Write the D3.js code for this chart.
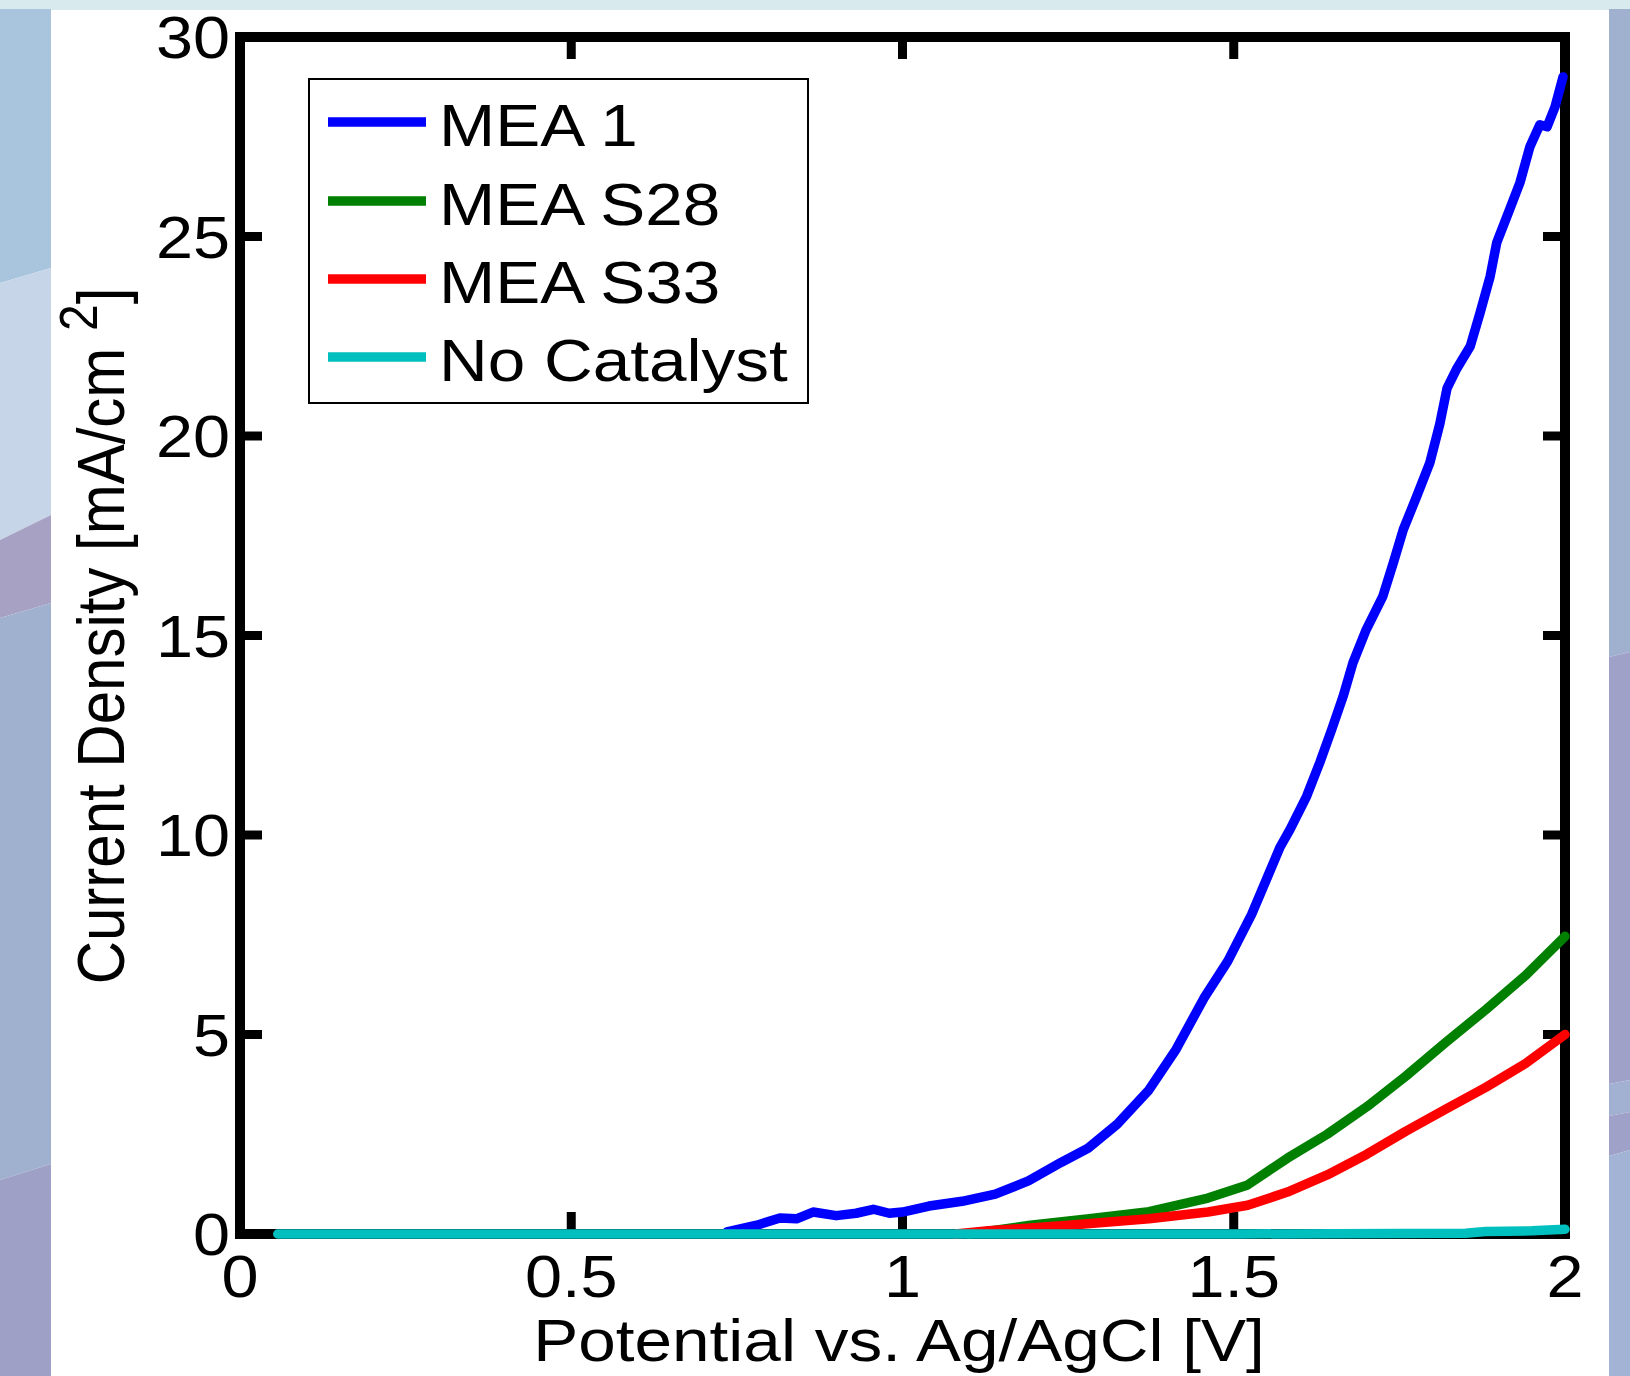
<!DOCTYPE html>
<html>
<head>
<meta charset="utf-8">
<script src="https://cdn.jsdelivr.net/npm/d3@7"></script>
<style>
  html, body { margin: 0; padding: 0; background: #fff; }
  svg { display: block; }
  text { font-family: "Liberation Sans", Arial, Helvetica, sans-serif; fill: #000; }
</style>
</head>
<body>
<svg id="chart" width="1630" height="1376"></svg>
<script>
// values: [potential V, current density mA/cm2]
const mea1 = [
  [0.735, 0.05], [0.78, 0.22], [0.815, 0.4], [0.84, 0.38], [0.865, 0.55], [0.9, 0.46],
  [0.93, 0.52], [0.956, 0.62], [0.98, 0.52], [1.0, 0.55], [1.04, 0.7], [1.09, 0.82],
  [1.14, 1.0], [1.19, 1.33], [1.24, 1.8], [1.28, 2.15], [1.324, 2.75], [1.372, 3.61],
  [1.413, 4.63], [1.455, 5.91], [1.491, 6.84], [1.527, 8.01], [1.57, 9.7], [1.585, 10.14],
  [1.61, 10.97], [1.63, 11.82], [1.648, 12.65], [1.665, 13.47], [1.68, 14.32], [1.70, 15.15],
  [1.725, 15.98], [1.741, 16.83], [1.756, 17.66], [1.776, 18.48], [1.796, 19.33], [1.811, 20.3],
  [1.822, 21.2], [1.837, 21.7], [1.857, 22.25], [1.872, 23.1], [1.887, 24.0], [1.897, 24.85],
  [1.917, 25.7], [1.932, 26.35], [1.947, 27.25], [1.962, 27.8], [1.973, 27.75], [1.985, 28.25],
  [1.997, 29.0]
];
const meaS28 = [
  [1.10, 0.0], [1.193, 0.22], [1.282, 0.38], [1.372, 0.56], [1.461, 0.9], [1.521, 1.23],
  [1.581, 1.9], [1.641, 2.5], [1.701, 3.19], [1.76, 3.96], [1.82, 4.8], [1.881, 5.63],
  [1.941, 6.49], [2.0, 7.46]
];
const meaS33 = [
  [1.08, 0.0], [1.13, 0.08], [1.251, 0.22], [1.372, 0.38], [1.461, 0.55], [1.521, 0.72],
  [1.581, 1.05], [1.641, 1.48], [1.701, 2.0], [1.76, 2.58], [1.82, 3.13], [1.881, 3.68],
  [1.941, 4.28], [2.0, 5.0]
];
const noCatalyst = [
  [0.057, 0.0], [0.5, 0.0], [1.0, 0.0], [1.5, 0.0], [1.85, 0.02], [1.88, 0.06], [1.95, 0.08], [2.0, 0.12]
];

const seriesNames = ["MEA 1", "MEA S28", "MEA S33", "No Catalyst"];
const seriesColors = ["#0000ff", "#008000", "#ff0000", "#00bfbf"];
const seriesData = [mea1, meaS28, meaS33, noCatalyst];

const xTicks = [0, 0.5, 1, 1.5, 2];
const xTickLabels = ["0", "0.5", "1", "1.5", "2"];
const yTicks = [0, 5, 10, 15, 20, 25, 30];
const yTickLabels = ["0", "5", "10", "15", "20", "25", "30"];

const svg = d3.select("#chart");
// the original figure is a bit wider than tall, so its text is stretched sideways
const tickStretch = 1.11;
const textStretch = 1.125;

// slide background behind the figure
const bg = svg.append("g");
bg.append("rect").attr("x", 0).attr("y", 0).attr("width", 1630).attr("height", 10).attr("fill", "#d8eaee");
const leftBands = [
  ["#a9c5dd", "0,9 51,9 51,268 0,283"],
  ["#c6d5e8", "0,283 51,268 51,515 0,540"],
  ["#a7a1c3", "0,540 51,515 51,603 0,618"],
  ["#a0b0cf", "0,618 51,603 51,1164 0,1180"],
  ["#9fa0c6", "0,1180 51,1164 51,1376 0,1376"]
];
const rightBands = [
  ["#a0b1d0", "1609,9 1630,9 1630,652 1609,657"],
  ["#a0a1c8", "1609,657 1630,652 1630,1080 1609,1084"],
  ["#a2b1d2", "1609,1084 1630,1080 1630,1112 1609,1116"],
  ["#a0a1c8", "1609,1116 1630,1112 1630,1150 1609,1156"],
  ["#a3b3d5", "1609,1156 1630,1150 1630,1376 1609,1376"]
];
leftBands.concat(rightBands).forEach(b => {
  bg.append("polygon").attr("points", b[1]).attr("fill", b[0]);
});

const x = d3.scaleLinear().domain([0, 2]).range([240, 1565]);
const y = d3.scaleLinear().domain([0, 30]).range([1234, 37]);

// axes box
svg.append("rect")
  .attr("x", x(0)).attr("y", y(30))
  .attr("width", x(2) - x(0)).attr("height", y(0) - y(30))
  .attr("fill", "none").attr("stroke", "#000").attr("stroke-width", 10);

// ticks, pointing inwards on all four sides
const tickLen = 22;
const ticks = svg.append("g").attr("stroke", "#000").attr("stroke-width", 9);
xTicks.forEach(v => {
  ticks.append("line").attr("x1", x(v)).attr("x2", x(v)).attr("y1", y(0)).attr("y2", y(0) - tickLen);
  ticks.append("line").attr("x1", x(v)).attr("x2", x(v)).attr("y1", y(30)).attr("y2", y(30) + tickLen);
});
yTicks.forEach(v => {
  ticks.append("line").attr("x1", x(0)).attr("x2", x(0) + tickLen).attr("y1", y(v)).attr("y2", y(v));
  ticks.append("line").attr("x1", x(2)).attr("x2", x(2) - tickLen).attr("y1", y(v)).attr("y2", y(v));
});

function label(px, py, str, anchor, sx) {
  return svg.append("text")
    .attr("transform", `translate(${px},${py}) scale(${sx},1)`)
    .attr("text-anchor", anchor)
    .attr("font-size", 60)
    .text(str);
}

xTicks.forEach((v, i) => label(x(v), 1297, xTickLabels[i], "middle", tickStretch));
yTicks.forEach((v, i) => label(230, y(v) + 21, yTickLabels[i], "end", tickStretch));

// axis titles
label(899, 1361, "Potential vs. Ag/AgCl [V]", "middle", textStretch);

const yTitle = svg.append("text")
  .attr("transform", `translate(124,636) scale(${tickStretch},1) rotate(-90)`)
  .attr("text-anchor", "middle")
  .attr("font-size", 60);
yTitle.append("tspan").text("Current Density [mA/cm ");
yTitle.append("tspan").attr("font-size", 48).attr("dy", -24).text("2");
yTitle.append("tspan").attr("dy", 24).text("]");

// curves
const line = d3.line().x(d => x(d[0])).y(d => y(d[1]));
const curves = svg.append("g");
seriesData.forEach((data, i) => {
  curves.append("path")
    .datum(data)
    .attr("d", line)
    .attr("fill", "none")
    .attr("stroke", seriesColors[i])
    .attr("stroke-width", 9.5)
    .attr("stroke-linejoin", "round")
    .attr("stroke-linecap", "round");
});

// legend
const legend = svg.append("g");
legend.append("rect")
  .attr("x", 309).attr("y", 79).attr("width", 499).attr("height", 324)
  .attr("fill", "#fff").attr("stroke", "#000").attr("stroke-width", 2);
const legendRows = [122, 201, 279, 357];
seriesNames.forEach((name, i) => {
  legend.append("line")
    .attr("x1", 328).attr("x2", 426)
    .attr("y1", legendRows[i]).attr("y2", legendRows[i])
    .attr("stroke", seriesColors[i]).attr("stroke-width", 9.5);
  label(439, legendRows[i] + 24, name, "start", textStretch);
});
</script>
</body>
</html>
